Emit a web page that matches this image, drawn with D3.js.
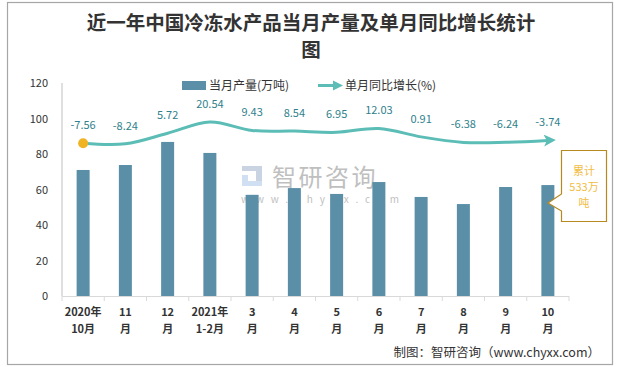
<!DOCTYPE html>
<html><head><meta charset="utf-8">
<script src="https://cdn.jsdelivr.net/npm/d3@7"></script>
<style>body{margin:0;background:#fff;}svg{display:block;}</style>
</head><body>
<script>
const categories1 = ["2020年","11","12","2021年","3","4","5","6","7","8","9","10"];
const categories2 = ["10月","月","月","1-2月","月","月","月","月","月","月","月","月"];
const production = [71.0, 73.8, 86.8, 80.6, 57.0, 60.8, 57.5, 64.2, 55.8, 51.8, 61.4, 62.5];
const growth = [-7.56, -8.24, 5.72, 20.54, 9.43, 8.54, 6.95, 12.03, 0.91, -6.38, -6.24, -3.74];
const yTicks = [0, 20, 40, 60, 80, 100, 120];
const titleLines = ["近一年中国冷冻水产品当月产量及单月同比增长统计", "图"];
const legendNames = ["当月产量(万吨)", "单月同比增长(%)"];
const calloutLines = ["累计", "533万", "吨"];
const sourceText = "制图：智研咨询（www.chyxx.com）";

const W = 622, H = 367;
const font = "'Noto Sans CJK SC','Noto Sans',sans-serif";
const svg = d3.select("body").append("svg").attr("width", W).attr("height", H)
  .style("font-family", font);

// border
svg.append("rect").attr("x", 7.5).attr("y", 2.5).attr("width", 605).attr("height", 362)
  .attr("fill", "#fff").attr("stroke", "#a6a6a6").attr("stroke-width", 1.2);

// title
svg.selectAll("text.title").data(titleLines).enter().append("text")
  .attr("x", 311).attr("y", (d, i) => 30 + i * 27)
  .attr("text-anchor", "middle").attr("font-size", 19.5).attr("font-weight", 700)
  .attr("fill", "#333").text(d => d);

const x = d3.scaleBand().domain(d3.range(12)).range([62, 569]).padding(0);
const y = d3.scaleLinear().domain([0, 120]).range([296, 83]);
const y2 = d3.scaleLinear().domain([-209, 72]).range([296, 83]);

// watermark
const wm = svg.append("g").attr("opacity", 0.55);
wm.append("rect").attr("x", 242).attr("y", 166).attr("width", 20).attr("height", 5).attr("fill", "#9fb0cc");
wm.append("rect").attr("x", 256).attr("y", 166).attr("width", 6).attr("height", 20).attr("fill", "#9fb0cc");
wm.append("rect").attr("x", 242).attr("y", 175).attr("width", 6).attr("height", 11).attr("fill", "#aac8e8");
wm.append("rect").attr("x", 242).attr("y", 181).attr("width", 20).attr("height", 5).attr("fill", "#aac8e8");
wm.append("text").attr("x", 272).attr("y", 186).attr("font-size", 24).attr("fill", "#8c8c8c")
  .attr("letter-spacing", 2.5).text("智研咨询");
wm.append("text").attr("x", 241).attr("y", 203).attr("font-size", 10).attr("fill", "#8c8c8c")
  .attr("letter-spacing", 6.9).text("www.chyxx.com");

// y axis
svg.append("line").attr("x1", 62).attr("x2", 62).attr("y1", 83).attr("y2", 296)
  .attr("stroke", "#bfbfbf").attr("stroke-width", 1);
svg.selectAll("text.ytick").data(yTicks).enter().append("text")
  .attr("x", 48).attr("y", d => y(d) + 4).attr("text-anchor", "end")
  .attr("font-size", 11).attr("fill", "#333").text(d => d);

// bars
svg.selectAll("rect.bar").data(production).enter().append("rect")
  .attr("x", (d, i) => x(i) + x.bandwidth() / 2 - 6.5).attr("width", 13)
  .attr("y", d => y(d)).attr("height", d => 296 - y(d)).attr("fill", "#5b8fa7");

// x axis
svg.append("line").attr("x1", 62).attr("x2", 569).attr("y1", 296.5).attr("y2", 296.5)
  .attr("stroke", "#d9d9d9").attr("stroke-width", 1);
svg.selectAll("line.xt").data(d3.range(13)).enter().append("line")
  .attr("x1", i => i < 12 ? x(i) : 569).attr("x2", i => i < 12 ? x(i) : 569)
  .attr("y1", 296).attr("y2", 301).attr("stroke", "#d9d9d9");
const xl = svg.selectAll("g.xl").data(d3.range(12)).enter().append("g");
xl.append("text").attr("x", i => x(i) + x.bandwidth() / 2).attr("y", 316)
  .attr("text-anchor", "middle").attr("font-size", 11).attr("font-weight", 700)
  .attr("fill", "#333").text(i => categories1[i]);
xl.append("text").attr("x", i => x(i) + x.bandwidth() / 2).attr("y", 333)
  .attr("text-anchor", "middle").attr("font-size", 11).attr("font-weight", 700)
  .attr("fill", "#333").text(i => categories2[i]);

// line
const defs = svg.append("defs");
defs.append("marker").attr("id", "arr").attr("markerUnits", "userSpaceOnUse")
  .attr("markerWidth", 14).attr("markerHeight", 12).attr("refX", 4).attr("refY", 6)
  .attr("orient", "auto")
  .append("path").attr("d", "M0,0 L12,6 L0,12 L3,6 Z").attr("fill", "#5bbdb6");
const line = d3.line().x((d, i) => x(i) + x.bandwidth() / 2).y(d => y2(d))
  .curve(d3.curveCatmullRom.alpha(0.5));
svg.append("path").datum(growth).attr("d", line).attr("fill", "none")
  .attr("stroke", "#5bbdb6").attr("stroke-width", 3).attr("marker-end", "url(#arr)");
svg.append("circle").attr("cx", x(0) + x.bandwidth() / 2).attr("cy", y2(growth[0]))
  .attr("r", 5).attr("fill", "#f0b324");
svg.selectAll("text.gl").data(growth).enter().append("text")
  .attr("x", (d, i) => x(i) + x.bandwidth() / 2).attr("y", d => y2(d) - 14)
  .attr("text-anchor", "middle").attr("font-size", 11).attr("fill", "#2f7f8c")
  .text(d => d.toFixed(2));

// legend
svg.append("rect").attr("x", 182).attr("y", 81).attr("width", 24).attr("height", 9).attr("fill", "#5b8fa7");
svg.append("text").attr("x", 209).attr("y", 90).attr("font-size", 12).attr("fill", "#333").text(legendNames[0]);
svg.append("line").attr("x1", 318).attr("x2", 336).attr("y1", 85.5).attr("y2", 85.5)
  .attr("stroke", "#5bbdb6").attr("stroke-width", 3);
svg.append("path").attr("d", "M333,80.5 L343,85.5 L333,90.5 Z").attr("fill", "#5bbdb6");
svg.append("text").attr("x", 345).attr("y", 90).attr("font-size", 12).attr("fill", "#333").text(legendNames[1]);

// callout
svg.append("path").attr("d", "M561.5,150.5 H606.5 V221.5 H561.5 V211 L548,203 L561.5,194 Z")
  .attr("fill", "#fff").attr("stroke", "#b8891f").attr("stroke-width", 1.2);
svg.selectAll("text.co").data(calloutLines).enter().append("text")
  .attr("x", 584).attr("y", (d, i) => 175 + i * 16).attr("text-anchor", "middle")
  .attr("font-size", 11).attr("fill", "#f2bc45").text(d => d);

// source
svg.append("text").attr("x", 600).attr("y", 357).attr("text-anchor", "end")
  .attr("font-size", 12.5).attr("fill", "#333").text(sourceText);
</script>
</body></html>
